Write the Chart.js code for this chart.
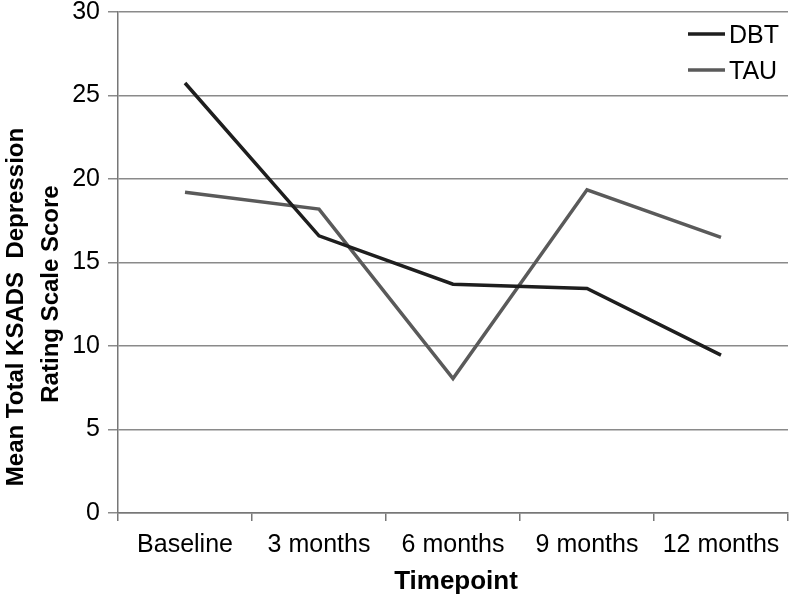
<!DOCTYPE html>
<html>
<head>
<meta charset="utf-8">
<script src="https://cdn.jsdelivr.net/npm/chart.js@4/dist/chart.umd.min.js"></script>
<style>
  html, body { margin: 0; padding: 0; background: #fff; }
  #wrap { width: 792px; height: 598px; }
</style>
</head>
<body>
<div id="wrap"><canvas id="chart" width="792" height="598"></canvas></div>
<script>
const timepoints = ["Baseline", "3 months", "6 months", "9 months", "12 months"];
const dbt = [25.75, 16.6, 13.7, 13.45, 9.45];
const tau = [19.2, 18.2, 8.05, 19.35, 16.5];
const yTicks = [0, 5, 10, 15, 20, 25, 30];
const yTitle = ["Mean Total KSADS  Depression", "Rating Scale Score"];
const xTitle = "Timepoint";

const FONT = "'Liberation Sans', Arial, sans-serif";

// axis titles + legend drawn on the canvas so they sit where the original has them
const extras = {
  id: "extras",
  afterDraw(chart){
    const ctx = chart.ctx;
    ctx.save();
    ctx.fillStyle = "#000";
    ctx.textAlign = "center";
    ctx.textBaseline = "alphabetic";
    ctx.font = "bold 26px " + FONT;
    ctx.fillText(xTitle, 456, 589);

    ctx.font = "bold 24px " + FONT;
    ctx.save();
    ctx.translate(23, 307);
    ctx.rotate(-Math.PI/2);
    ctx.fillText(yTitle[0], 0, 0);
    ctx.restore();
    ctx.save();
    ctx.translate(58, 294);
    ctx.rotate(-Math.PI/2);
    ctx.fillText(yTitle[1], 0, 0);
    ctx.restore();

    // legend
    ctx.font = "25px " + FONT;
    ctx.textAlign = "left";
    ctx.textBaseline = "middle";
    chart.data.datasets.forEach((ds, i)=>{
      let y = 34 + i*36;
      ctx.strokeStyle = ds.borderColor;
      ctx.lineWidth = ds.borderWidth;
      ctx.beginPath();
      ctx.moveTo(688, y); ctx.lineTo(725, y);
      ctx.stroke();
      ctx.fillStyle = "#000";
      ctx.fillText(ds.label, 729, y + 2);
    });
    ctx.restore();
  }
};

new Chart(document.getElementById("chart"), {
  type: "line",
  data: {
    labels: timepoints,
    datasets: [
      { label: "DBT", data: dbt, borderColor: "#1e1e1e", borderWidth: 3.5, pointRadius: 0, tension: 0 },
      { label: "TAU", data: tau, borderColor: "#5a5a5a", borderWidth: 3.5, pointRadius: 0, tension: 0 }
    ]
  },
  options: {
    responsive: false,
    animation: false,
    layout: { padding: { top: 12, right: 4, left: 0, bottom: 0 } },
    plugins: { legend: { display: false }, tooltip: { enabled: false } },
    scales: {
      x: {
        offset: true,
        grid: { offset: true, drawOnChartArea: false, drawTicks: true, tickLength: 8, color: "#777", lineWidth: 1.5 },
        border: { color: "#777", width: 1.5 },
        ticks: { color: "#000", font: { family: FONT, size: 25 }, padding: 9, maxRotation: 0, autoSkip: false },
        afterFit: s => { s.height = 85; s.paddingLeft = 0; s.paddingRight = 0; }
      },
      y: {
        min: 0, max: 30,
        afterBuildTicks: s => { s.ticks = yTicks.map(v => ({ value: v })); },
        grid: { color: "#8a8a8a", lineWidth: 1.5, tickLength: 10 },
        border: { color: "#777", width: 1.5 },
        ticks: { color: "#000", font: { family: FONT, size: 25 }, padding: 8 },
        afterFit: s => { s.width = 118; s.paddingTop = 0; s.paddingBottom = 0; }
      }
    }
  },
  plugins: [extras]
});
</script>
</body>
</html>
